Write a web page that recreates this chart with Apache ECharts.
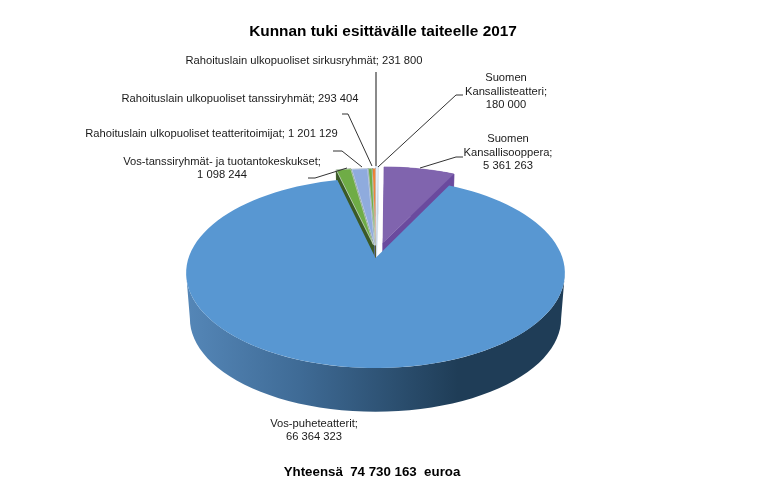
<!DOCTYPE html>
<html><head><meta charset="utf-8">
<style>html,body{margin:0;padding:0;background:#fff}#c{width:768px;height:504px}</style>
<script src="https://cdn.jsdelivr.net/npm/echarts@6/dist/echarts.min.js"></script>
</head><body><div id="c"></div>
<script>
// Data, clockwise from 12 o'clock
const categories = ["Suomen\nKansallisteatteri;", "Suomen\nKansallisooppera;", "Vos-puheteatterit;", "Vos-tanssiryhmät- ja tuotantokeskukset;", "Rahoituslain ulkopuoliset teatteritoimijat;", "Rahoituslain ulkopuoliset tanssiryhmät;", "Rahoituslain ulkopuoliset sirkusryhmät;"];
const values = [180000, 5361263, 66364323, 1098244, 1201129, 293404, 231800];
const titleText = "Kunnan tuki esittävälle taiteelle 2017";
const totalText = "Yhteensä  74 730 163  euroa";

// Styling and layout
const topColors  = ["#e3edf8", "#8064ae", "#5897d2", "#6fac46", "#8fabdd", "#6fac46", "#ed7d31"];
const wallColors = ["#c9d6e6", "#6a4a9e", "#2a4a68", "#3b5a26", "#5a6f95", "#3b5a26", "#9a5020"];
const drawOrder = [1, 2, 20, 12, 10, 8, 6];
const labelAnchors = [[506,91.5,'center'],[508,152.5,'center'],[314,430.5,'center'],[222,168.5,'center'],[211.5,134,'center'],[240,99,'center'],[304,60.5,'center']];
const oneLine = [false,false,false,false,true,true,true];
const leaders = [
  [[463,95],[456,95],[378,167]],
  [[463,157],[456,157],[420,168]],
  null,
  [[308,178],[315,178],[347,168]],
  [[333,151],[342,151],[362,167]],
  [[342,114],[348,114],[372,166]],
  [[376,72],[376,166]]
];
const leaderColors = ["#333","#333","#333","#333","#333","#333","#8a8a8a"];
const leaderWidths = [1,1,1,1,1,1,2];
const explode = [0.17,0.17,0,0.15,0.14,0.14,0.14];
const sideFactor = [1,1,1,0.4,0.4,0.4,0.4];
const G = {ax:375.5, ay:258, R:187, H:92.6, k:0.158, bs:0.98, by:46, steps:3};
const FONT = 'Liberation Sans, Arial, sans-serif';

const fmt = v => String(v).replace(/\B(?=(\d{3})+$)/g, ' ');
const total = values.reduce((a,b)=>a+b,0);
const starts = []; values.reduce((acc,v,i)=>{starts[i]=acc;return acc+v;},0);
const sideAngle = Math.acos(-G.k);

function proj(X,Y){const w=1+G.k*Y;return [G.ax+G.R*X/w, G.ay-G.H*Y/w];}
function lower(p){return [G.ax+(p[0]-G.ax)*G.bs, G.ay+(p[1]-G.ay)*G.bs+G.by];}
function arcPts(i,from,to){
  const pts=[], mid=(starts[i]+values[i]/2)/total*2*Math.PI;
  const dx=explode[i]*Math.sin(mid)*sideFactor[i], dy=explode[i]*Math.cos(mid);
  const n=Math.max(2,Math.ceil(Math.abs(to-from)*180/Math.PI/G.steps));
  for(let j=0;j<=n;j++){const a=from+(to-from)*j/n;pts.push(proj(dx+Math.sin(a),dy+Math.cos(a)));}
  return {pts,apex:proj(dx,dy)};
}
function renderItem(params,api){
  const i=params.dataIndex, v=api.value(0);
  const a0=starts[i]/total*2*Math.PI, a1=a0+v/total*2*Math.PI;
  const {pts,apex}=arcPts(i,a0,a1);
  const children=[];
  const top=[apex].concat(pts);
  const z=drawOrder[i];
  if(i===2){
    const band=arcPts(i,sideAngle,2*Math.PI-sideAngle).pts;
    children.push({type:'polygon',z2:19,shape:{points:band.concat(band.map(lower).reverse())},
      style:{fill:new echarts.graphic.LinearGradient(185,0,564,0,[
        {offset:0,color:'#5587b8'},{offset:0.3,color:'#3f6b96'},{offset:0.72,color:'#1f3d57'},{offset:1,color:'#1f3d57'}],true)}});
  } else {
    const ring=top.concat([apex]);
    for(let j=0;j<ring.length-1;j++){
      const q=[ring[j],ring[j+1],lower(ring[j+1]),lower(ring[j])];
      children.push({type:'polygon',z2:z,shape:{points:q},style:{fill:wallColors[i],stroke:wallColors[i],lineWidth:0.5}});
    }
  }
  const light = i>=3 ? {stroke:'#e8eef5',lineWidth:0.6} : {};
  children.push({type:'polygon',z2:z+1,shape:{points:top},style:Object.assign({fill:topColors[i]},light)});
  if(leaders[i]) children.push({type:'polyline',z2:30,shape:{points:leaders[i]},style:{fill:null,stroke:leaderColors[i],lineWidth:leaderWidths[i]}});
  const [lx,ly,al]=labelAnchors[i];
  const txt=categories[i]+(oneLine[i]?' ':'\n')+fmt(v);
  children.push({type:'text',z2:31,style:{text:txt,x:lx,y:ly,align:al,verticalAlign:'middle',font:'11.2px '+FONT,lineHeight:13.5,fill:'#1a1a1a'}});
  return {type:'group',children};
}
const chart=echarts.init(document.getElementById('c'),null,{renderer:'canvas'});
chart.setOption({
  animation:false,
  backgroundColor:'#fff',
  title:[
    {text:titleText,left:378,top:19,textAlign:'center',textStyle:{fontFamily:FONT,fontSize:15.4,fontWeight:'bold',color:'#000'}},
    {text:totalText,left:367,top:461,textAlign:'center',textStyle:{fontFamily:FONT,fontSize:13.3,fontWeight:'bold',color:'#000'}}
  ],
  series:[{type:'custom',coordinateSystem:'none',renderItem,silent:true,clip:false,
    data:values.map((v,i)=>({name:categories[i],value:[v]}))}]
});
</script></body></html>
